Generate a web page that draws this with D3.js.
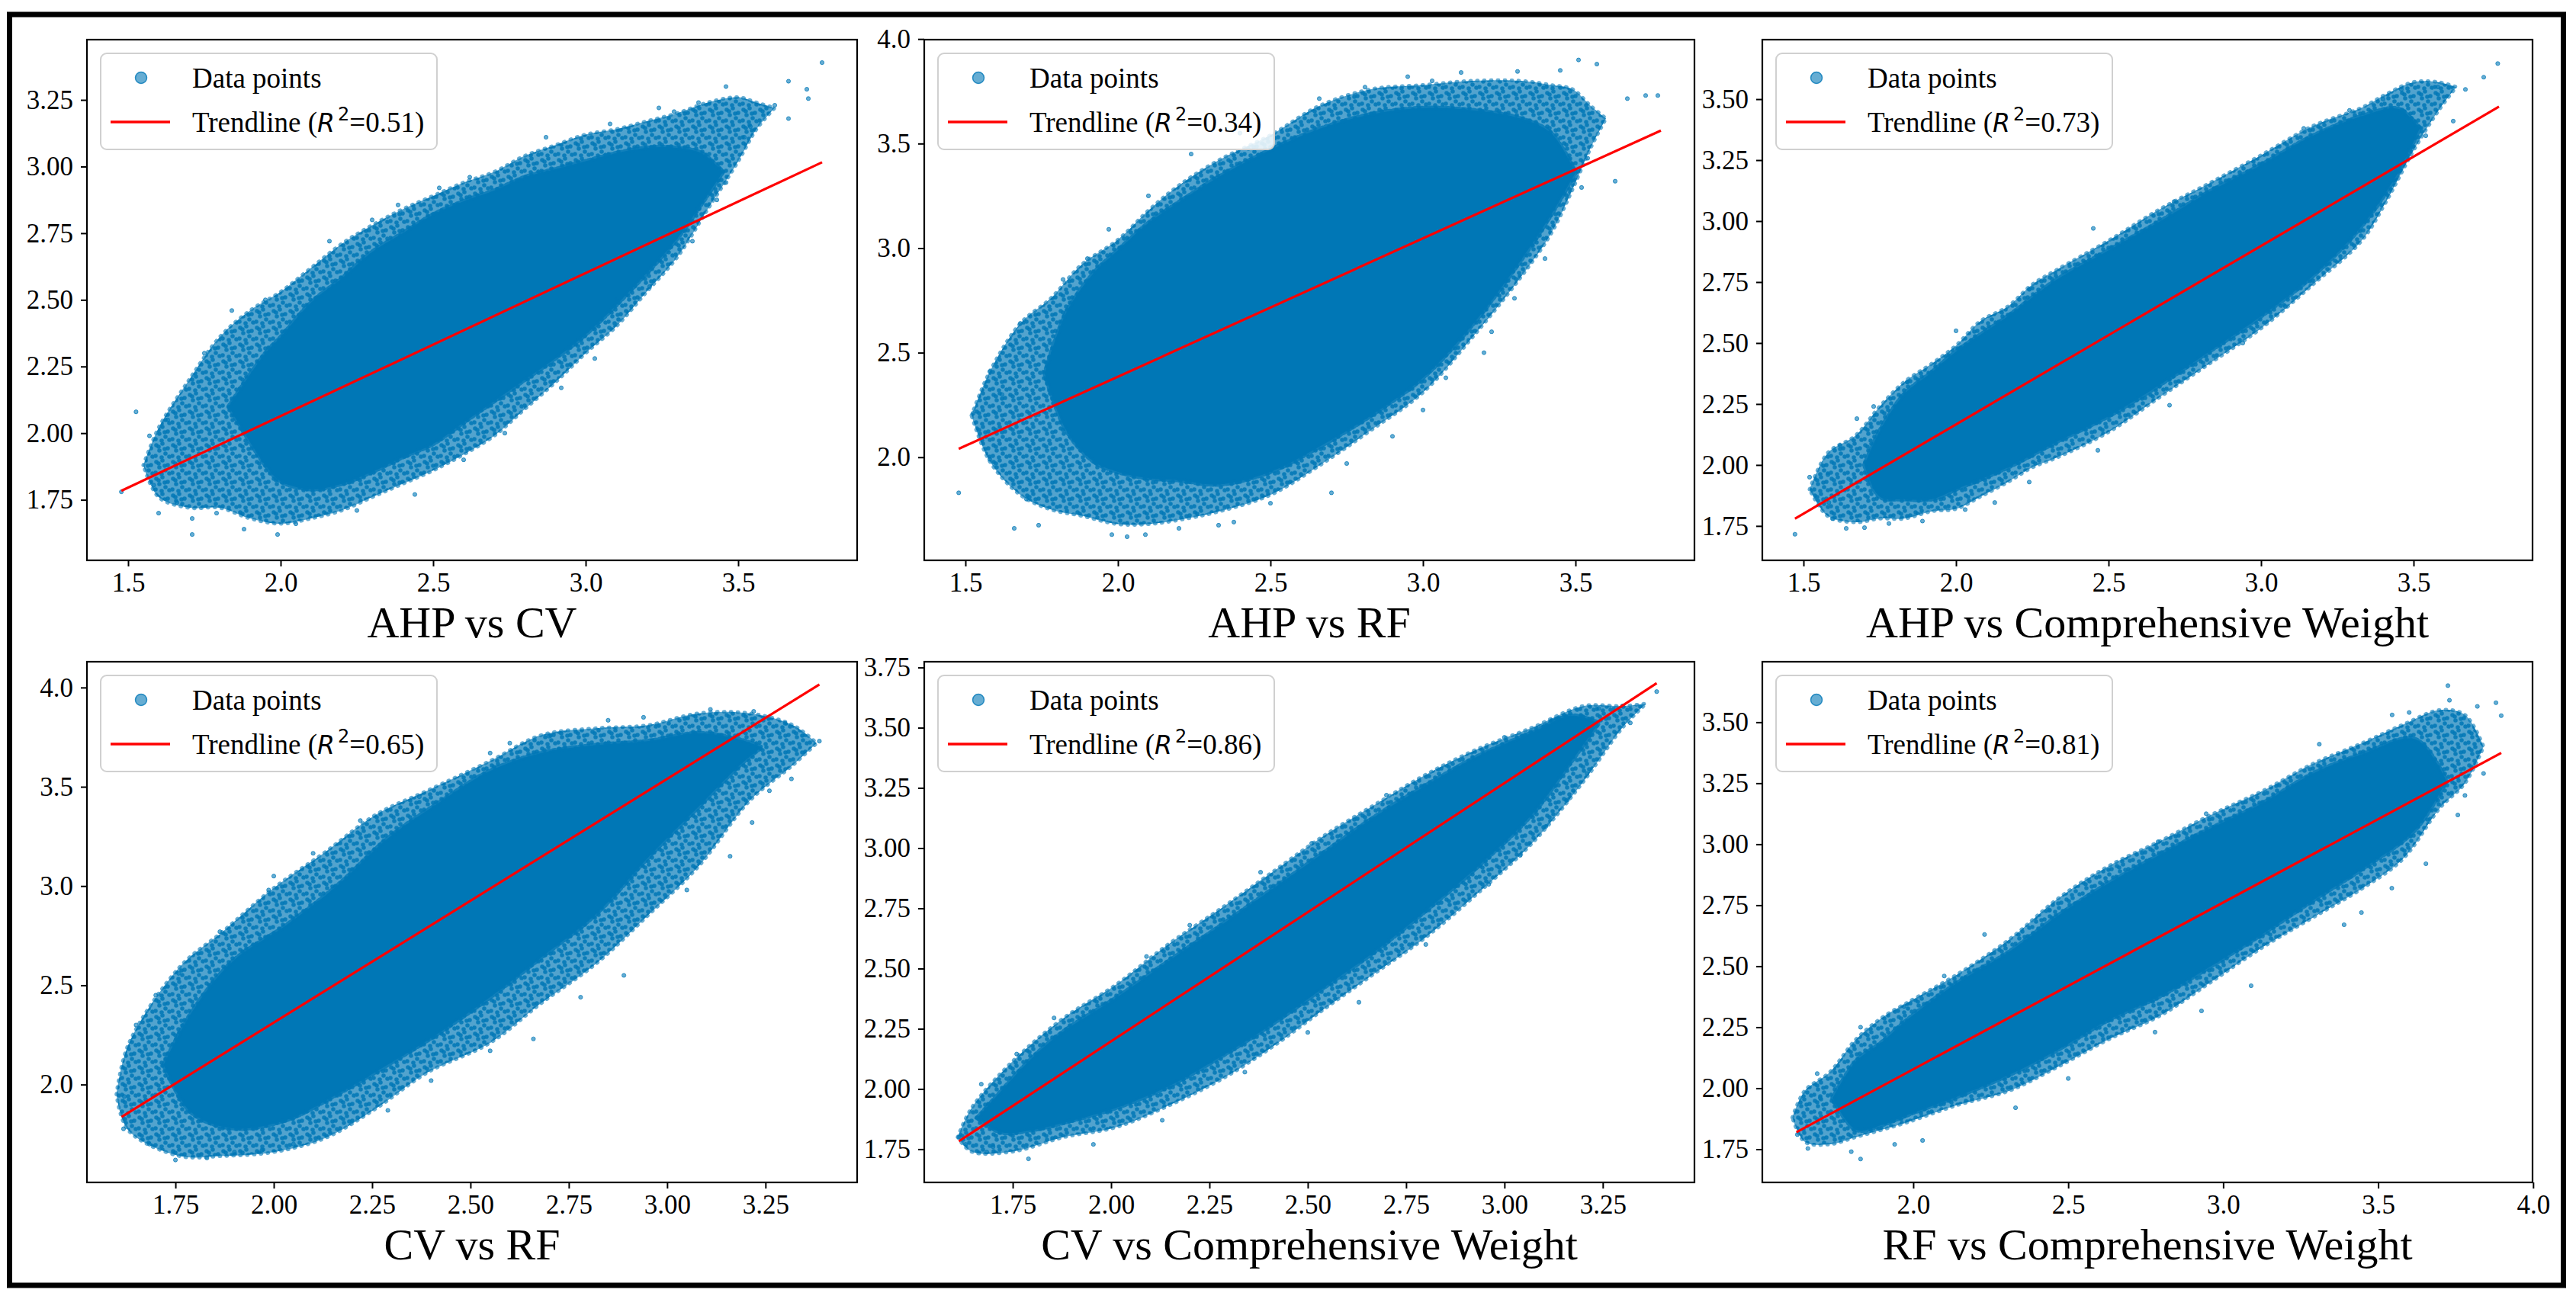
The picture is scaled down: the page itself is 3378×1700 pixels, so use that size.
<!DOCTYPE html>
<html>
<head>
<meta charset="utf-8">
<script src="https://cdn.jsdelivr.net/npm/d3@7/dist/d3.min.js"></script>
<style>
  html, body { margin: 0; padding: 0; background: #ffffff; }
  svg { display: block; }
  svg text, svg tspan { font-family: "Liberation Serif", "Times New Roman", serif; }
  svg tspan.math { font-family: "DejaVu Sans", sans-serif; }
</style>
</head>
<body>
<svg id="chart" width="3378" height="1700"></svg>
<script>
// ---------------- DATA ----------------
const panelTitles = ["AHP vs CV", "AHP vs RF", "AHP vs Comprehensive Weight",
                     "CV vs RF", "CV vs Comprehensive Weight", "RF vs Comprehensive Weight"];
const r2Values = ["0.51", "0.34", "0.73", "0.65", "0.86", "0.81"];

const xDomains = [[1.365, 3.89], [1.365, 3.89], [1.365, 3.89], [1.525, 3.483], [1.525, 3.483], [1.513, 3.998]];
const yDomains = [[1.523, 3.476], [1.507, 3.997], [1.609, 3.744], [1.507, 4.130], [1.612, 3.774], [1.614, 3.748]];

const xTicks = [[1.5, 2.0, 2.5, 3.0, 3.5], [1.5, 2.0, 2.5, 3.0, 3.5], [1.5, 2.0, 2.5, 3.0, 3.5],
                [1.75, 2.0, 2.25, 2.5, 2.75, 3.0, 3.25], [1.75, 2.0, 2.25, 2.5, 2.75, 3.0, 3.25],
                [2.0, 2.5, 3.0, 3.5, 4.0]];
const yTicks = [[1.75, 2.0, 2.25, 2.5, 2.75, 3.0, 3.25], [2.0, 2.5, 3.0, 3.5, 4.0],
                [1.75, 2.0, 2.25, 2.5, 2.75, 3.0, 3.25, 3.5], [2.0, 2.5, 3.0, 3.5, 4.0],
                [1.75, 2.0, 2.25, 2.5, 2.75, 3.0, 3.25, 3.5, 3.75],
                [1.75, 2.0, 2.25, 2.5, 2.75, 3.0, 3.25, 3.5]];
const xTickDecimals = [1, 1, 1, 2, 2, 1];
const yTickDecimals = [2, 1, 2, 1, 2, 2];

// trendline: y = slope * x + intercept, drawn over [xStart, xEnd]
const trendSlope     = [0.5364, 0.6614, 0.7318, 1.2277, 1.0722, 0.6834];
const trendIntercept = [0.9912, 1.0624, 0.7028, -0.1433, 0.0535, 0.7109];
const trendXStart    = [1.478, 1.478, 1.472, 1.613, 1.613, 1.623];
const trendXEnd      = [3.775, 3.780, 3.780, 3.387, 3.387, 3.897];

// point-cloud envelopes: [x, yLow, yHigh]; "fringe" = outer sparse band, "core" = solid band
const p1Fringe = [[1.55,1.88,1.88],[1.60,1.76,2.02],[1.70,1.72,2.20],[1.80,1.72,2.36],[1.90,1.68,2.46],[2.00,1.66,2.53],
  [2.10,1.68,2.62],[2.20,1.71,2.71],[2.30,1.76,2.78],[2.40,1.81,2.84],[2.50,1.86,2.89],[2.60,1.92,2.94],
  [2.70,1.99,2.98],[2.80,2.09,3.04],[2.90,2.19,3.08],[3.00,2.30,3.12],[3.10,2.40,3.14],[3.20,2.53,3.17],
  [3.30,2.66,3.20],[3.40,2.84,3.24],[3.50,3.02,3.26],[3.56,3.14,3.24],[3.62,3.22,3.22]];
const p1Core = [[1.83,2.10,2.10],[1.95,1.88,2.30],[2.00,1.82,2.36],[2.10,1.79,2.49],[2.20,1.81,2.58],
  [2.30,1.855,2.68],[2.40,1.91,2.75],[2.50,1.96,2.82],[2.60,2.04,2.87],[2.70,2.12,2.91],[2.80,2.20,2.96],
  [2.90,2.28,2.99],[3.00,2.37,3.02],[3.10,2.48,3.05],[3.20,2.60,3.07],[3.30,2.73,3.07],[3.38,2.86,3.05],
  [3.45,2.98,2.98]];
const p1Outliers = [[1.478,1.78],[1.526,2.08],[1.584,1.805],[1.60,1.70],[1.66,1.74],[1.71,1.68],[1.71,1.62],
  [1.88,1.64],[1.99,1.62],[2.44,1.77],[2.735,2.00],[1.84,2.46],[2.16,2.72],[2.385,2.856],[2.87,3.11],
  [3.08,3.16],[3.46,3.30],[3.775,3.39],[3.665,3.32],[3.725,3.29],[3.73,3.255],[3.665,3.18],[3.62,3.23],
  [3.54,3.15],[3.52,3.11],[3.46,2.94],[3.43,2.875],[3.35,2.72],[3.21,2.55],[3.10,2.50],[3.24,3.22],
  [3.29,3.206],[3.37,3.24],[1.57,1.99],[1.63,2.05],[1.75,2.30],[1.79,1.70],[2.05,1.66],[2.25,1.71],
  [2.60,1.90],[2.92,2.17],[3.03,2.28],[2.62,2.96],[2.52,2.92],[2.30,2.80],[1.95,2.50]];

const p2Fringe = [[1.52,2.20,2.20],[1.58,1.98,2.41],[1.68,1.82,2.64],[1.78,1.75,2.76],[1.88,1.72,2.92],[2.00,1.68,3.04],
  [2.10,1.68,3.18],[2.20,1.70,3.30],[2.33,1.74,3.42],[2.50,1.82,3.54],[2.66,1.96,3.68],[2.83,2.13,3.76],
  [3.00,2.31,3.78],[3.16,2.57,3.80],[3.32,2.86,3.80],[3.42,3.07,3.78],[3.49,3.28,3.76],[3.55,3.48,3.68],
  [3.60,3.62,3.62]];
const p2Core = [[1.76,2.40,2.40],[1.83,2.13,2.69],[1.92,1.98,2.88],[2.00,1.93,2.99],[2.10,1.90,3.12],
  [2.20,1.89,3.22],[2.33,1.87,3.34],[2.50,1.93,3.47],[2.66,2.05,3.57],[2.83,2.20,3.64],[3.00,2.38,3.67],
  [3.16,2.63,3.66],[3.32,2.94,3.62],[3.42,3.16,3.55],[3.50,3.36,3.36]];
const p2Outliers = [[1.478,1.83],[1.525,2.21],[1.58,1.99],[1.66,1.66],[1.74,1.675],[1.98,1.63],[2.03,1.62],
  [2.09,1.63],[2.33,1.675],[2.38,1.69],[2.70,1.83],[2.75,1.97],[3.00,2.226],[3.075,2.38],[3.225,2.60],
  [3.30,2.76],[3.40,2.95],[3.63,3.32],[3.52,3.29],[3.54,3.43],[3.67,3.715],[3.73,3.73],[3.77,3.73],
  [3.57,3.88],[3.51,3.90],[3.31,3.845],[3.125,3.84],[3.03,3.80],[2.81,3.77],[2.66,3.715],[2.24,3.45],
  [1.97,3.09],[1.82,2.85],[1.68,2.64],[1.58,2.41],[2.40,3.55],[1.62,2.30],[1.70,1.80],[2.20,1.66],
  [2.50,1.78],[2.90,2.10],[3.20,2.50],[3.45,3.85],[2.95,3.82],[2.10,3.25],[1.90,2.95]];

const p3Fringe = [[1.52,1.90,1.90],[1.58,1.79,2.05],[1.67,1.765,2.12],[1.75,1.78,2.24],[1.83,1.78,2.34],[1.92,1.81,2.415],
  [2.00,1.82,2.49],[2.08,1.87,2.59],[2.17,1.93,2.65],[2.25,1.99,2.74],[2.33,2.03,2.80],[2.50,2.135,2.92],
  [2.67,2.28,3.05],[2.83,2.415,3.155],[3.00,2.56,3.27],[3.17,2.74,3.39],[3.33,2.92,3.465],[3.41,3.08,3.52],
  [3.50,3.29,3.57],[3.58,3.45,3.57],[3.64,3.55,3.55]];
const p3Core = [[1.70,2.00,2.00],[1.75,1.87,2.14],[1.83,1.86,2.29],[1.92,1.86,2.38],[2.00,1.90,2.465],
  [2.17,1.99,2.61],[2.33,2.095,2.76],[2.50,2.20,2.88],[2.67,2.33,3.00],[2.83,2.465,3.12],[3.00,2.61,3.23],
  [3.17,2.775,3.35],[3.33,2.98,3.43],[3.45,3.20,3.46],[3.52,3.38,3.38]];
const p3Outliers = [[1.472,1.716],[1.52,1.95],[1.583,1.846],[1.595,1.78],[1.70,1.743],[1.78,1.76],[1.89,1.77],
  [1.675,2.19],[1.73,2.24],[1.84,2.34],[2.24,2.72],[2.715,3.08],[3.14,3.38],[3.29,3.454],[3.46,3.54],
  [3.58,3.55],[3.73,3.59],[3.776,3.646],[3.67,3.54],[3.63,3.41],[3.54,3.35],[3.29,2.92],[3.08,2.65],
  [2.94,2.50],[2.70,2.245],[2.465,2.06],[2.24,1.93],[2.127,1.846],[2.03,1.817],[1.62,2.08],[1.58,1.96],
  [1.64,1.74],[2.00,2.55],[2.45,2.97],[3.40,3.50]];

const p4Fringe = [[1.60,1.95,1.95],[1.63,1.77,2.20],[1.76,1.64,2.59],[1.87,1.64,2.77],[2.00,1.66,2.99],[2.13,1.73,3.17],
  [2.26,1.88,3.36],[2.39,2.06,3.48],[2.55,2.21,3.63],[2.68,2.41,3.76],[2.82,2.61,3.795],[2.95,2.85,3.81],
  [3.08,3.10,3.87],[3.21,3.43,3.87],[3.32,3.61,3.81],[3.38,3.72,3.72]];
const p4Core = [[1.72,2.10,2.10],[1.79,1.86,2.36],[1.895,1.78,2.62],[2.03,1.82,2.80],[2.16,1.95,3.00],
  [2.29,2.10,3.24],[2.42,2.26,3.42],[2.55,2.44,3.58],[2.68,2.64,3.67],[2.82,2.86,3.71],[2.95,3.14,3.73],
  [3.08,3.40,3.77],[3.18,3.60,3.74],[3.24,3.70,3.70]];
const p4Outliers = [[1.618,1.777],[1.62,1.94],[1.684,1.70],[1.75,1.62],[1.83,1.63],[1.97,1.67],[2.05,1.70],
  [2.29,1.87],[1.758,2.56],[1.863,2.77],[1.987,2.98],[2.10,3.165],[2.22,3.33],[2.37,3.45],[2.55,3.67],
  [2.70,3.755],[2.85,3.835],[2.94,3.85],[3.11,3.89],[3.22,3.88],[3.30,3.82],[3.387,3.73],[3.316,3.54],
  [3.216,3.32],[3.16,3.15],[2.89,2.55],[2.66,2.23],[2.55,2.17],[1.65,2.30],[1.70,2.45],[1.90,1.66],
  [2.40,2.02],[2.78,2.44],[3.05,2.98],[3.26,3.48],[2.60,3.72],[2.00,3.05]];

const p5Fringe = [[1.61,1.80,1.80],[1.645,1.74,1.92],[1.75,1.74,2.115],[1.88,1.80,2.295],[2.01,1.84,2.43],[2.145,1.93,2.60],
  [2.28,2.04,2.75],[2.41,2.175,2.90],[2.54,2.33,3.05],[2.67,2.48,3.18],[2.80,2.63,3.305],[2.93,2.81,3.41],
  [3.07,3.02,3.50],[3.20,3.275,3.59],[3.30,3.50,3.59],[3.36,3.60,3.60]];
const p5Core = [[1.66,1.88,1.88],[1.72,1.82,1.99],[1.80,1.83,2.13],[1.88,1.86,2.24],[2.01,1.92,2.375],
  [2.145,2.01,2.53],[2.28,2.135,2.68],[2.41,2.27,2.83],[2.54,2.42,2.98],[2.67,2.57,3.13],[2.80,2.74,3.26],
  [2.93,2.92,3.38],[3.07,3.14,3.48],[3.17,3.36,3.55],[3.24,3.52,3.52]];
const p5Outliers = [[1.613,1.80],[1.63,1.77],[1.684,1.738],[1.79,1.71],[1.955,1.77],[1.67,2.02],[1.76,2.145],
  [1.855,2.295],[2.09,2.55],[2.38,2.90],[2.51,3.02],[2.88,3.335],[3.12,3.53],[3.24,3.58],[3.30,3.59],
  [3.32,3.52],[3.387,3.65],[3.21,3.31],[3.16,3.20],[3.105,3.09],[3.04,2.97],[2.96,2.85],[2.80,2.60],
  [2.63,2.36],[2.50,2.235],[2.34,2.07],[2.13,1.87],[1.70,1.76],[2.20,2.68],[2.70,3.22],[3.00,3.46]];

const p6Fringe = [[1.61,1.88,1.88],[1.65,1.78,1.99],[1.73,1.77,2.065],[1.815,1.80,2.20],[1.90,1.83,2.29],[1.98,1.86,2.35],
  [2.14,1.93,2.465],[2.31,1.99,2.61],[2.47,2.09,2.78],[2.63,2.20,2.91],[2.80,2.30,3.015],[2.96,2.435,3.12],
  [3.13,2.58,3.22],[3.29,2.70,3.33],[3.45,2.82,3.415],[3.58,2.94,3.49],[3.70,3.15,3.55],[3.78,3.25,3.53],
  [3.84,3.40,3.40]];
const p6Core = [[1.74,1.96,1.96],[1.815,1.83,2.11],[1.90,1.85,2.19],[1.98,1.89,2.28],[2.14,1.965,2.43],
  [2.31,2.055,2.56],[2.47,2.16,2.71],[2.63,2.28,2.84],[2.80,2.38,2.96],[2.96,2.50,3.065],[3.13,2.635,3.17],
  [3.29,2.77,3.29],[3.45,2.90,3.37],[3.62,3.06,3.43],[3.72,3.26,3.26]];
const p6Outliers = [[1.626,1.81],[1.66,1.753],[1.69,2.06],[1.80,1.74],[1.83,1.71],[1.94,1.77],[2.03,1.786],
  [1.83,2.25],[1.97,2.335],[2.23,2.63],[2.44,2.73],[2.79,3.01],[2.945,3.125],[3.31,3.41],[3.545,3.53],
  [3.725,3.65],[3.73,3.59],[3.88,3.58],[3.897,3.527],[3.82,3.565],[3.84,3.29],[3.757,3.12],[3.654,2.92],
  [3.544,2.82],[3.446,2.72],[3.39,2.67],[3.09,2.42],[2.93,2.317],[2.78,2.23],[2.50,2.04],[2.33,1.92],
  [1.70,1.96],[2.10,2.46],[3.60,3.54],[3.78,3.20]];

const fringes = [p1Fringe, p2Fringe, p3Fringe, p4Fringe, p5Fringe, p6Fringe];
const cores = [p1Core, p2Core, p3Core, p4Core, p5Core, p6Core];
const outliers = [p1Outliers, p2Outliers, p3Outliers, p4Outliers, p5Outliers, p6Outliers];

// ---------------- LAYOUT / STYLE ----------------
const colLeft = [114, 1212, 2311];
const rowTop = [52, 868];
const PW = 1010, PH = 683;
const pointColor = "#0077b6";
const serifFont = "Liberation Serif";

const svg = d3.select("#chart");
svg.append("rect").attr("width", 3378).attr("height", 1700).attr("fill", "#ffffff");

const defs = svg.append("defs");
defs.append("clipPath").attr("id", "plotclip")
  .append("rect").attr("x", 0).attr("y", 0).attr("width", PW).attr("height", PH);

// speckle texture (a styling pattern) giving the sparse fringe a dotted look
const speckle = defs.append("pattern").attr("id", "speckle")
  .attr("patternUnits", "userSpaceOnUse").attr("width", 22).attr("height", 22);
speckle.append("rect").attr("width", 22).attr("height", 22)
  .attr("fill", pointColor).attr("fill-opacity", 0.68);
[[3, 4], [11, 2], [18, 8], [7, 11], [15, 15], [2, 18], [10, 20], [20, 19], [6, 6], [14, 9]].forEach(p => {
  speckle.append("circle").attr("cx", p[0]).attr("cy", p[1]).attr("r", 2.8)
    .attr("fill", pointColor).attr("fill-opacity", 0.85);
});

for (let i = 0; i < 6; i++) {
  const left = colLeft[i % 3], top = rowTop[Math.floor(i / 3)];
  const g = svg.append("g").attr("transform", `translate(${left},${top})`);
  const xs = d3.scaleLinear().domain(xDomains[i]).range([0, PW]);
  const ys = d3.scaleLinear().domain(yDomains[i]).range([PH, 0]);

  // point cloud
  const cloud = g.append("g").attr("clip-path", "url(#plotclip)");
  const area = d3.area()
    .x(d => xs(d[0])).y0(d => ys(d[1])).y1(d => ys(d[2]))
    .curve(d3.curveCatmullRom.alpha(0.5));
  cloud.append("path").datum(fringes[i]).attr("d", area)
    .attr("fill", "url(#speckle)")
    .attr("stroke", pointColor).attr("stroke-opacity", 0.6).attr("stroke-width", 5)
    .attr("stroke-linecap", "round").attr("stroke-dasharray", "1 8");
  cloud.append("path").datum(cores[i]).attr("d", area)
    .attr("fill", pointColor).attr("stroke", pointColor).attr("stroke-opacity", 0.8)
    .attr("stroke-width", 6).attr("stroke-linecap", "round").attr("stroke-dasharray", "3 4");
  cloud.selectAll("circle.pt").data(outliers[i]).enter().append("circle")
    .attr("class", "pt")
    .attr("cx", d => xs(d[0])).attr("cy", d => ys(d[1])).attr("r", 2.6)
    .attr("fill", pointColor).attr("fill-opacity", 0.6)
    .attr("stroke", pointColor).attr("stroke-opacity", 0.7).attr("stroke-width", 1);

  // trendline
  const tx = [trendXStart[i], trendXEnd[i]];
  cloud.append("path")
    .datum(tx.map(x => [x, trendSlope[i] * x + trendIntercept[i]]))
    .attr("d", d3.line().x(d => xs(d[0])).y(d => ys(d[1])))
    .attr("stroke", "#ff0000").attr("stroke-width", 3.2).attr("fill", "none");

  // axes
  const xAxis = d3.axisBottom(xs).tickValues(xTicks[i])
    .tickFormat(d3.format("." + xTickDecimals[i] + "f")).tickSize(8).tickPadding(8);
  const yAxis = d3.axisLeft(ys).tickValues(yTicks[i])
    .tickFormat(d3.format("." + yTickDecimals[i] + "f")).tickSize(8).tickPadding(10);
  const gx = g.append("g").attr("transform", `translate(0,${PH})`).call(xAxis);
  const gy = g.append("g").call(yAxis);
  [gx, gy].forEach(a => {
    a.attr("font-family", serifFont).attr("font-size", 35);
    a.select(".domain").remove();
    a.selectAll(".tick line").attr("stroke", "#000").attr("stroke-width", 2);
    a.selectAll(".tick text").attr("font-family", serifFont).attr("font-size", 35).attr("fill", "#000");
  });

  // spines
  g.append("rect").attr("x", 0).attr("y", 0).attr("width", PW).attr("height", PH)
    .attr("fill", "none").attr("stroke", "#000").attr("stroke-width", 2.2);

  // title (x label)
  g.append("text").attr("x", PW / 2).attr("y", PH + 101)
    .attr("text-anchor", "middle").attr("font-family", serifFont).attr("font-size", 58)
    .attr("fill", "#000").text(panelTitles[i]);

  // legend
  const lg = g.append("g").attr("transform", "translate(18,18)");
  lg.append("rect").attr("width", 441).attr("height", 126).attr("rx", 8).attr("ry", 8)
    .attr("fill", "#ffffff").attr("fill-opacity", 0.85)
    .attr("stroke", "#d0d0d0").attr("stroke-width", 2);
  lg.append("circle").attr("cx", 53).attr("cy", 32).attr("r", 7.5)
    .attr("fill", pointColor).attr("fill-opacity", 0.6)
    .attr("stroke", pointColor).attr("stroke-opacity", 0.8).attr("stroke-width", 1.5);
  lg.append("text").attr("x", 120).attr("y", 45)
    .attr("font-family", serifFont).attr("font-size", 37).attr("fill", "#000").text("Data points");
  lg.append("line").attr("x1", 13).attr("x2", 91).attr("y1", 90).attr("y2", 90)
    .attr("stroke", "#ff0000").attr("stroke-width", 3.5);
  const t2 = lg.append("text").attr("x", 120).attr("y", 103)
    .attr("font-family", serifFont).attr("font-size", 37).attr("fill", "#000");
  t2.append("tspan").text("Trendline (");
  t2.append("tspan").attr("class", "math").attr("font-style", "italic")
    .attr("font-size", 33).text("R");
  t2.append("tspan").attr("class", "math").attr("font-size", 24)
    .attr("dx", 4).attr("dy", -15).text("2");
  t2.append("tspan").attr("dy", 15).text("=" + r2Values[i] + ")");
}

// outer frame
svg.append("rect").attr("x", 12.5).attr("y", 19).attr("width", 3349).attr("height", 1667)
  .attr("fill", "none").attr("stroke", "#000").attr("stroke-width", 7);
</script>
</body>
</html>
